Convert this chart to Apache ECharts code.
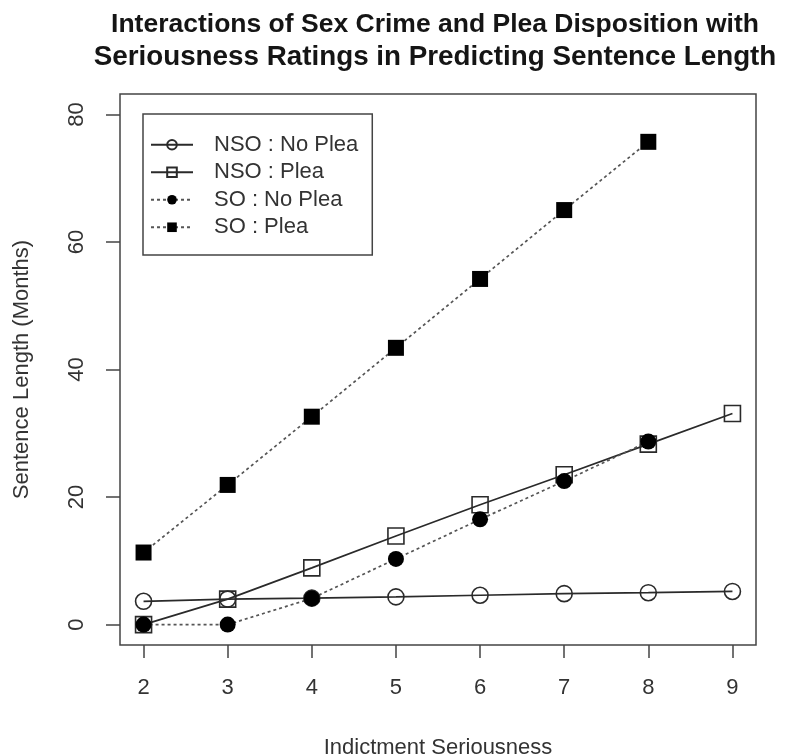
<!DOCTYPE html>
<html>
<head>
<meta charset="utf-8">
<script src="https://cdn.jsdelivr.net/npm/echarts@6/dist/echarts.min.js"></script>
<style>
  html, body { margin: 0; padding: 0; background: #fff; }
  #chart { width: 787px; height: 756px; }
</style>
</head>
<body>
<div id="chart"></div>
<script>
// Indictment seriousness levels (x) and predicted sentence length in months (y)
const seriousness = [2, 3, 4, 5, 6, 7, 8, 9];
const nsoNoPlea = [3.65, 4.0, 4.15, 4.35, 4.6, 4.85, 5.0, 5.2];
const nsoPlea   = [0, 4.0, 8.9, 13.9, 18.8, 23.5, 28.3, 33.1];
const soNoPlea  = [0, 0, 4.1, 10.3, 16.5, 22.5, 28.7, null];
const soPlea    = [11.3, 21.9, 32.6, 43.4, 54.2, 65.0, 75.7, null];
const xTicks = [2, 3, 4, 5, 6, 7, 8, 9];
const yTicks = [0, 20, 40, 60, 80];
const seriesNames = ['NSO : No Plea', 'NSO : Plea', 'SO : No Plea', 'SO : Plea'];
const titleLines = [
  'Interactions of Sex Crime and Plea Disposition with',
  'Seriousness Ratings in Predicting Sentence Length'
];

const FONT = '"Liberation Sans", Arial, sans-serif';
const INK = '#333';

function pairs(vals) {
  return seriousness.map((x, i) => [x, vals[i]]).filter(p => p[1] !== null);
}

function makeSeries(name, vals, symbol, filled, dotted) {
  return {
    name: name,
    type: 'line',
    data: pairs(vals),
    symbol: symbol,
    symbolSize: 16,
    showSymbol: true,
    animation: false,
    lineStyle: {
      color: dotted ? '#555' : '#2a2a2a',
      width: 1.7,
      type: dotted ? [3, 3] : 'solid'
    },
    itemStyle: {
      color: filled ? '#000' : 'rgba(255,255,255,0)',
      borderColor: filled ? '#000' : '#2a2a2a',
      borderWidth: filled ? 0 : 1.6
    },
    emphasis: { disabled: true }
  };
}

const chart = echarts.init(document.getElementById('chart'), null, { renderer: 'canvas' });
chart.setOption({
  backgroundColor: '#fff',
  animation: false,
  title: {
    text: '{a|' + titleLines[0] + '}\n{b|' + titleLines[1] + '}',
    left: 435,
    top: 8,
    padding: 0,
    textAlign: 'center',
    textStyle: {
      fontFamily: FONT,
      fontWeight: 'bold',
      fontSize: 27,
      lineHeight: 33,
      color: '#151515',
      rich: {
        a: { fontFamily: FONT, fontWeight: 'bold', fontSize: 26.5, lineHeight: 33, color: '#151515' },
        b: { fontFamily: FONT, fontWeight: 'bold', fontSize: 27.8, lineHeight: 33, color: '#151515' }
      }
    }
  },
  legend: {
    orient: 'vertical',
    left: 143,
    top: 114,
    padding: [17, 14, 14, 7],
    itemGap: 0,
    itemWidth: 42,
    itemHeight: 12,
    borderColor: '#444',
    borderWidth: 1.5,
    selectedMode: false,
    data: seriesNames,
    textStyle: {
      fontFamily: FONT,
      fontSize: 22,
      lineHeight: 27.5,
      color: INK,
      padding: [0, 0, 0, 16]
    }
  },
  grid: {
    left: 120,
    right: 31,
    top: 94,
    bottom: 111,
    show: true,
    borderColor: '#444',
    borderWidth: 1.5,
    backgroundColor: 'transparent',
    containLabel: false,
    outerBoundsMode: 'none'
  },
  xAxis: {
    type: 'value',
    min: 1.72,
    max: 9.28,
    name: 'Indictment Seriousness',
    nameLocation: 'middle',
    nameGap: 92,
    nameTextStyle: { fontFamily: FONT, fontSize: 22, color: INK },
    axisLine: { show: false, onZero: false },
    splitLine: { show: false },
    axisTick: {
      show: true,
      inside: false,
      length: 13,
      customValues: xTicks,
      lineStyle: { color: '#444', width: 1.5 }
    },
    axisLabel: {
      customValues: xTicks,
      margin: 32,
      fontFamily: FONT,
      fontSize: 22,
      color: INK
    }
  },
  yAxis: {
    type: 'value',
    min: -3.2,
    max: 83.2,
    name: 'Sentence Length (Months)',
    nameLocation: 'middle',
    nameGap: 87,
    nameTextStyle: { fontFamily: FONT, fontSize: 22, color: INK },
    axisLine: { show: false, onZero: false },
    splitLine: { show: false },
    axisTick: {
      show: true,
      inside: false,
      length: 14,
      customValues: yTicks,
      lineStyle: { color: '#444', width: 1.5 }
    },
    axisLabel: {
      customValues: yTicks,
      rotate: 90,
      margin: 32,
      fontFamily: FONT,
      fontSize: 22,
      color: INK
    }
  },
  series: [
    makeSeries(seriesNames[0], nsoNoPlea, 'circle', false, false),
    makeSeries(seriesNames[1], nsoPlea, 'rect', false, false),
    makeSeries(seriesNames[2], soNoPlea, 'circle', true, true),
    makeSeries(seriesNames[3], soPlea, 'rect', true, true)
  ]
});
</script>
</body>
</html>
